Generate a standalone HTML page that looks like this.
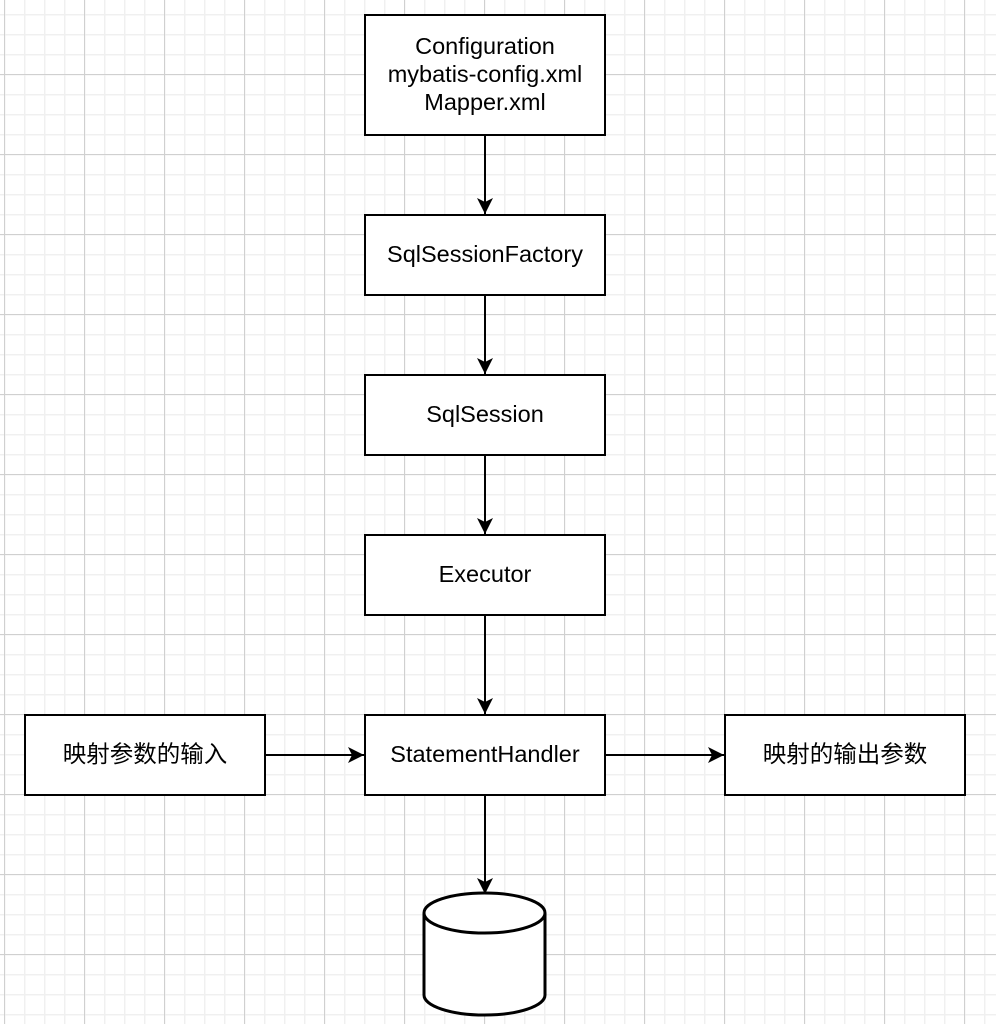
<!DOCTYPE html>
<html><head><meta charset="utf-8"><style>
html,body{margin:0;padding:0}
body{width:996px;height:1024px;background-color:#fff;
background-image:
linear-gradient(to right,#d0d0d0 1px,transparent 1px),
linear-gradient(to bottom,#d0d0d0 1px,transparent 1px),
linear-gradient(to right,#f0f0f0 1.5px,transparent 1.5px),
linear-gradient(to bottom,#f0f0f0 1.5px,transparent 1.5px);
background-size:80px 80px,80px 80px,20px 20px,20px 20px;
background-position:4px 74px,4px 74px,4px 14px,4px 14px;}
svg{display:block}
text{font-family:"Liberation Sans","Noto Sans CJK SC",sans-serif;font-size:23.5px;fill:#000;text-anchor:middle}
</style></head><body>
<svg width="996" height="1024" viewBox="0 0 996 1024" xmlns="http://www.w3.org/2000/svg">
<defs>
<marker id="a" markerWidth="18" markerHeight="18" refX="16" refY="8" orient="auto" markerUnits="userSpaceOnUse">
<path d="M0 0L16 8L0 16L4 8Z" fill="#000"/>
</marker>
</defs>
<g stroke="#000" stroke-width="2" fill="#fff">
<rect x="365" y="15" width="240" height="120"/>
<rect x="365" y="215" width="240" height="80"/>
<rect x="365" y="375" width="240" height="80"/>
<rect x="365" y="535" width="240" height="80"/>
<rect x="365" y="715" width="240" height="80"/>
<rect x="25" y="715" width="240" height="80"/>
<rect x="725" y="715" width="240" height="80"/>
</g>
<g stroke="#000" stroke-width="2" fill="none">
<path d="M485 135V214" marker-end="url(#a)"/>
<path d="M485 295V374" marker-end="url(#a)"/>
<path d="M485 455V534" marker-end="url(#a)"/>
<path d="M485 615V714" marker-end="url(#a)"/>
<path d="M265 755H364" marker-end="url(#a)"/>
<path d="M605 755H724" marker-end="url(#a)"/>
<path d="M485 795V894" marker-end="url(#a)"/>
</g>
<g stroke="#000" stroke-width="3" fill="#fff">
<path d="M424 913A60.5 20 0 0 1 545 913V995A60.5 20 0 0 1 424 995Z"/>
<path d="M424 913A60.5 20 0 0 0 545 913" fill="none"/>
</g>
<text x="485" y="54">Configuration</text>
<text x="485" y="82">mybatis-config.xml</text>
<text x="485" y="110">Mapper.xml</text>
<text x="485" y="262">SqlSessionFactory</text>
<text x="485" y="422">SqlSession</text>
<text x="485" y="582">Executor</text>
<text x="485" y="762">StatementHandler</text>
<text x="145" y="762">映射参数的输入</text>
<text x="845" y="762">映射的输出参数</text>
</svg>
</body></html>
